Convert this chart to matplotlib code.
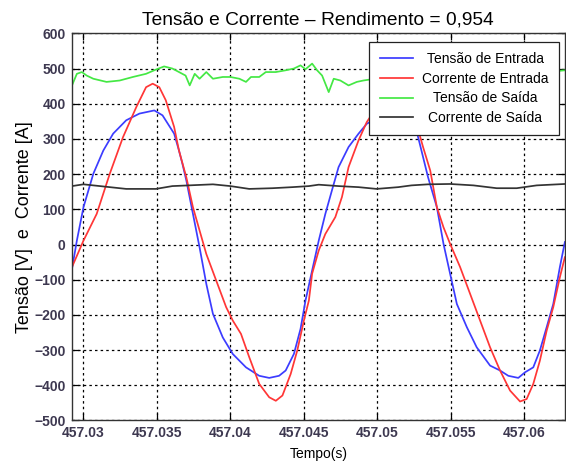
import matplotlib
matplotlib.use('Agg')
import matplotlib.pyplot as plt

plt.rcParams['font.family'] = ['Liberation Sans', 'DejaVu Sans']

# Tensao de Entrada (azul)
t_vin = [457.02922, 457.02955, 457.03, 457.03067, 457.03135, 457.03202, 457.03291,
         457.03381, 457.03482, 457.03538, 457.03617, 457.0365, 457.03673, 457.037,
         457.03745, 457.0379, 457.03836, 457.03881, 457.03948, 457.04016, 457.04106,
         457.04196, 457.04264, 457.04331, 457.04376, 457.04432, 457.04477, 457.04511,
         457.04556, 457.04601, 457.04646, 457.04691, 457.04736, 457.04804, 457.04872,
         457.04928, 457.0508, 457.05266, 457.053, 457.05345, 457.05405, 457.0545,
         457.05495, 457.05541, 457.05609, 457.05676, 457.05767, 457.05835, 457.05891,
         457.05959, 457.06005, 457.06061, 457.06106, 457.06152, 457.06197, 457.06242,
         457.06276]
v_in = [-69, 11, 106, 201, 267, 315, 353,
        372, 381, 367, 315, 267, 230, 182,
        87, -8, -112, -197, -264, -311, -349,
        -373, -379, -373, -358, -311, -240, -159,
        -74, 11, 87, 154, 220, 277, 315,
        343, 380, 324, 267, 191, 106, 2,
        -83, -169, -235, -292, -344, -358, -373,
        -379, -363, -349, -301, -235, -169, -64,
        7]

# Corrente de Entrada (vermelho)
t_iin = [457.02922, 457.03, 457.0309, 457.03179, 457.03269, 457.03359, 457.03426,
         457.03471, 457.03516, 457.0356, 457.03617, 457.0365, 457.037, 457.03745,
         457.0379, 457.03836, 457.03903, 457.03971, 457.04016, 457.04072, 457.04128,
         457.04196, 457.04264, 457.04309, 457.04354, 457.0441, 457.04455, 457.045,
         457.04534, 457.04556, 457.04601, 457.04646, 457.04714, 457.04759, 457.04804,
         457.04872, 457.04928, 457.051, 457.05266, 457.05311, 457.0536, 457.05405,
         457.0545, 457.05495, 457.05563, 457.05631, 457.05699, 457.05767, 457.05835,
         457.05903, 457.05971, 457.06016, 457.06061, 457.06106, 457.06152, 457.06197,
         457.06242, 457.06276]
i_in = [-64, 11, 87, 201, 305, 390, 447,
        457, 447, 410, 334, 267, 191, 106,
        40, -27, -102, -178, -216, -254, -320,
        -396, -434, -444, -429, -368, -301, -216,
        -159, -83, -17, 30, 78, 135, 220,
        296, 348, 455, 343, 277, 210, 106,
        49, 2, -64, -140, -216, -292, -358,
        -415, -446, -439, -396, -330, -245, -178,
        -93, -36]

# Tensao de Saida (verde)
t_vout = [457.02922, 457.02955, 457.02989, 457.03022, 457.03067, 457.03157, 457.03247,
          457.03336, 457.03426, 457.03493, 457.03549, 457.03605, 457.0365, 457.03695,
          457.03723, 457.03757, 457.0379, 457.03836, 457.03881, 457.03948, 457.04,
          457.04061, 457.04106, 457.0414, 457.04196, 457.04241, 457.04309, 457.04376,
          457.04432, 457.04477, 457.04511, 457.04556, 457.0459, 457.04624, 457.04669,
          457.04703, 457.04748, 457.04804, 457.0486, 457.04905, 457.0505, 457.052,
          457.0535, 457.055, 457.057, 457.059, 457.061, 457.06276]
v_out = [452, 485, 490, 480, 471, 462, 466,
         476, 485, 497, 506, 500, 490, 480,
         452, 485, 471, 490, 471, 476, 476,
         471, 462, 476, 476, 490, 490, 495,
         500, 509, 498, 514, 495, 480, 433,
         471, 466, 452, 462, 466, 475, 468,
         480, 472, 485, 478, 488, 495]

# Corrente de Saida (preto)
t_iout = [457.02922, 457.03, 457.03112, 457.03291, 457.03493, 457.03605, 457.03717,
          457.03881, 457.04, 457.04128, 457.04286, 457.04421, 457.04534, 457.04601,
          457.04736, 457.04872, 457.04995, 457.05142, 457.05232, 457.05345, 457.05495,
          457.05654, 457.05812, 457.05948, 457.06084, 457.06276]
i_out = [166, 171, 166, 158, 158, 166, 168,
         171, 166, 158, 160, 163, 166, 170,
         166, 163, 158, 163, 168, 171, 172,
         168, 160, 160, 168, 172]

labels = ['Tensão de Entrada', 'Corrente de Entrada', 'Tensão de Saída', 'Corrente de Saída']
xticks = [457.03, 457.035, 457.04, 457.045, 457.05, 457.055, 457.06]
yticks = list(range(-500, 601, 100))

fig = plt.figure(figsize=(5.66, 4.63), dpi=100)
ax = fig.add_axes([0.1267, 0.0918, 0.8713, 0.8362])

ax.plot(t_vin, v_in, color='#3c3cff', lw=1.25, label=labels[0])
ax.plot(t_iin, i_in, color='#ff3636', lw=1.25, label=labels[1])
ax.plot(t_vout, v_out, color='#44e844', lw=1.25, label=labels[2])
ax.plot(t_iout, i_out, color='#333333', lw=1.25, label=labels[3])

ax.set_xlim(457.0292, 457.06276)
ax.set_ylim(-500, 600)
ax.set_xticks(xticks)
ax.set_xticklabels([('%g' % v) for v in xticks])
ax.set_yticks(yticks)

ax.grid(True, color='black', linestyle=(0, (2, 2.5)), linewidth=0.9)
ax.tick_params(direction='in', top=True, right=True, length=5, width=0.9,
               labelsize=10, labelcolor='#3d3850')
ax.tick_params(axis='y', pad=4.3)
ax.tick_params(axis='x', pad=4)
for lab in ax.get_xticklabels() + ax.get_yticklabels():
    lab.set_fontweight('bold')
for s in ax.spines.values():
    s.set_color('#333333')
    s.set_linewidth(1.0)

ax.set_title('Tensão e Corrente – Rendimento = 0,954', fontsize=13.8, pad=6.3)
ax.set_xlabel('Tempo(s)', fontsize=10, labelpad=5)
ax.set_ylabel('Tensão [V]  e  Corrente [A]', fontsize=13, labelpad=1)

leg = ax.legend(loc='upper right', bbox_to_anchor=(0.9878, 0.978), borderaxespad=0,
                fontsize=10, fancybox=False, framealpha=1, edgecolor='#222222',
                handlelength=2.4, handletextpad=0.65, borderpad=0.75, labelspacing=0.4)
leg.get_frame().set_linewidth(0.9)

# centralizar os textos da legenda
fig.canvas.draw()
txts = leg.get_texts()
ws = [t.get_window_extent().width for t in txts]
for t, w in zip(txts, ws):
    t.set_position(((max(ws) - w) / 2, 0))

fig.savefig('out.png', dpi=100)
